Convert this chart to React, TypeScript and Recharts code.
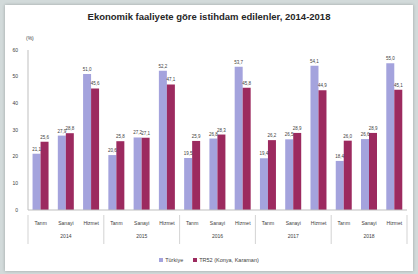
import { Bar, BarChart, LabelList, XAxis, YAxis } from "recharts";

const years = ["2014", "2015", "2016", "2017", "2018"];
const sectors = ["Tarım", "Sanayi", "Hizmet"];
const turkiye = [21.1, 27.9, 51.0, 20.6, 27.2, 52.2, 19.5, 26.8, 53.7, 19.4, 26.5, 54.1, 18.4, 26.6, 55.0];
const bolge = [25.6, 28.8, 45.6, 25.8, 27.1, 47.1, 25.9, 28.3, 45.8, 26.2, 28.9, 44.9, 26.0, 28.9, 45.1];
const yTicks = [0, 10, 20, 30, 40, 50, 60];
const seriesNames = ["Türkiye", "TR52 (Konya, Karaman)"];

const COLORS = { tr: "#a4a3dd", bolge: "#9c2a5f" };
const FONT = "'Liberation Sans', Arial, sans-serif";

const CHART_W = 408;
const CHART_H = 266;
const MARGIN = { top: 45, right: 6, left: 0, bottom: 30 };
const Y_W = 23;
const BAND = (CHART_W - MARGIN.left - MARGIN.right - Y_W) / (years.length * sectors.length);

const data = years.flatMap((year, i) =>
  sectors.map((sector, j) => ({
    key: `${year}-${sector}`,
    sector,
    year,
    tr: turkiye[i * 3 + j],
    bolge: bolge[i * 3 + j],
  })),
);

// Turkish decimal comma, always one decimal
const fmt = (v: unknown) => Number(v).toFixed(1).replace(".", ",");

function CategoryTick(props: any) {
  const { x, y, index } = props;
  const d = data[index];
  if (!d) return null;
  const pos = index % 3;
  const lineColor = "#c8c8c8";
  return (
    <g>
      <text x={x} y={y + 7} textAnchor="middle" fontSize={5} fill="#404040" fontFamily={FONT}>
        {d.sector}
      </text>
      {pos === 1 && (
        <text x={x} y={y + 20} textAnchor="middle" fontSize={5} fill="#404040" fontFamily={FONT}>
          {d.year}
        </text>
      )}
      {pos === 0 && (
        <line x1={x - BAND / 2} x2={x - BAND / 2} y1={y - 3} y2={y + 26} stroke={lineColor} strokeWidth={0.8} />
      )}
      {index === data.length - 1 && (
        <line x1={x + BAND / 2} x2={x + BAND / 2} y1={y - 3} y2={y + 26} stroke={lineColor} strokeWidth={0.8} />
      )}
    </g>
  );
}

function Legend() {
  const items = [
    { name: seriesNames[0], color: COLORS.tr },
    { name: seriesNames[1], color: COLORS.bolge },
  ];
  return (
    <div
      style={{
        position: "absolute",
        top: 252,
        left: 0,
        width: CHART_W,
        display: "flex",
        justifyContent: "center",
        gap: 10,
        fontFamily: FONT,
        fontSize: 5.5,
        color: "#404040",
      }}
    >
      {items.map((it) => (
        <span key={it.name} style={{ display: "flex", alignItems: "center", gap: 2 }}>
          <span style={{ width: 4, height: 4, background: it.color, display: "inline-block" }} />
          {it.name}
        </span>
      ))}
    </div>
  );
}

export default function App() {
  return (
    <div
      style={{
        position: "fixed",
        top: 0,
        left: 0,
        width: 418,
        height: 274,
        background: "#d2dada",
        overflow: "hidden",
      }}
    >
      <div
        style={{
          position: "absolute",
          top: 5,
          left: 5,
          width: CHART_W,
          height: CHART_H,
          background: "#ffffff",
          boxShadow: "0 0 3px rgba(0,0,0,0.25)",
        }}
      >
        <div
          style={{
            position: "absolute",
            top: 6,
            left: 0,
            width: CHART_W,
            textAlign: "center",
            fontFamily: FONT,
            fontWeight: "bold",
            fontSize: 9.5,
            color: "#262626",
          }}
        >
          Ekonomik faaliyete göre istihdam edilenler, 2014-2018
        </div>
        <div
          style={{
            position: "absolute",
            top: 30,
            left: 21,
            fontFamily: FONT,
            fontSize: 5,
            color: "#404040",
          }}
        >
          (%)
        </div>
        <BarChart
          width={CHART_W}
          height={CHART_H}
          data={data}
          margin={MARGIN}
          barCategoryGap="18%"
          barGap={0}
        >
          <XAxis
            dataKey="key"
            interval={0}
            height={31}
            tickLine={false}
            axisLine={{ stroke: "#bfbfbf" }}
            tick={<CategoryTick />}
          />
          <YAxis
            width={Y_W}
            domain={[0, 60]}
            ticks={yTicks}
            interval={0}
            tickLine={false}
            tickMargin={4}
            axisLine={{ stroke: "#bfbfbf" }}
            tick={{ fontSize: 5, fill: "#404040", fontFamily: FONT }}
          />
          <Bar dataKey="tr" fill={COLORS.tr} isAnimationActive={false}>
            <LabelList
              dataKey="tr"
              position="top"
              offset={3}
              formatter={fmt}
              style={{ fontSize: 4.5, fill: "#404040", fontFamily: FONT }}
            />
          </Bar>
          <Bar dataKey="bolge" fill={COLORS.bolge} isAnimationActive={false}>
            <LabelList
              dataKey="bolge"
              position="top"
              offset={3}
              formatter={fmt}
              style={{ fontSize: 4.5, fill: "#404040", fontFamily: FONT }}
            />
          </Bar>
        </BarChart>
        <Legend />
      </div>
    </div>
  );
}
